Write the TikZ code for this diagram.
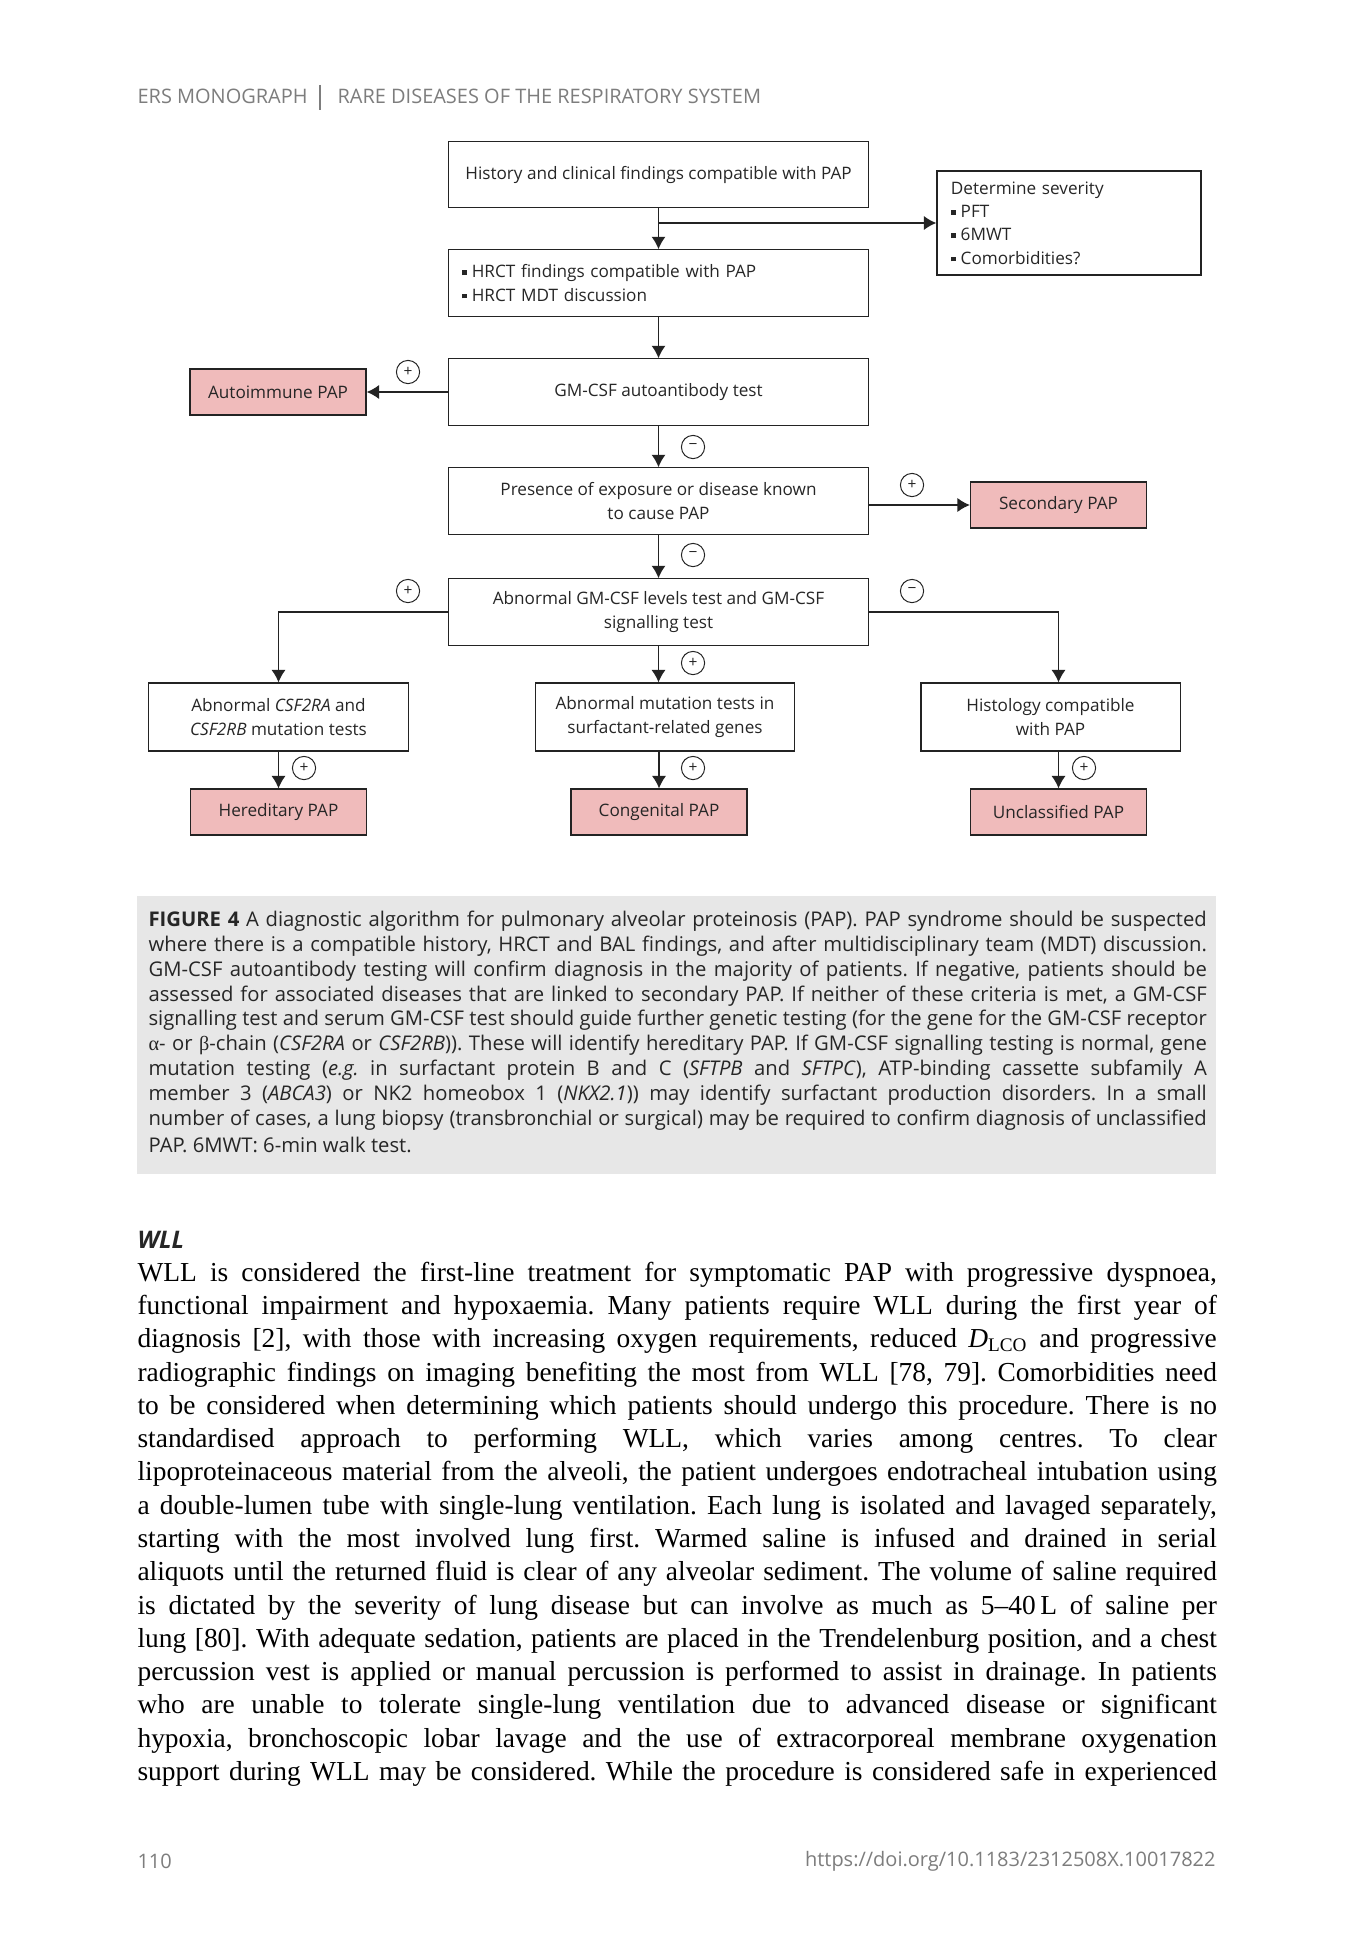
\documentclass[tikz,border=0pt]{standalone}
\usepackage{fontspec}
\setmainfont{Liberation Serif}
\setsansfont{Open Sans}
\newfontfamily\greekserif{Liberation Serif}
\usetikzlibrary{arrows.meta,positioning}
\definecolor{papred}{RGB}{240,187,187}
\definecolor{boxline}{RGB}{35,35,35}
\definecolor{capgray}{RGB}{231,231,231}
\definecolor{headgray}{RGB}{125,125,125}
\newcommand{\sqbullet}{\rule[0.3ex]{0.5ex}{0.5ex}\hspace{0.3em}}
\newcommand{\capwidth}{13.225cm}
\newcommand{\bodywidth}{13.4875cm}
\frenchspacing

\begin{document}
\begin{tikzpicture}[x=0.0125cm, y=-0.0125cm,
    >={Latex[length=4.4pt,width=5pt]}, %Pfeilspitzen
    font=\sffamily\fontsize{6.1}{8.3}\selectfont,
    stepbox/.style={draw=boxline, line width=0.45pt, text=black!85, align=center,
      minimum width=5.24cm, minimum height=0.83cm, inner sep=2pt},
    genebox/.style={stepbox, minimum width=3.24cm, minimum height=0.85cm},
    papbox/.style={stepbox, fill=papred, minimum width=2.2cm, minimum height=0.575cm},
    sign/.style={draw=boxline, circle, line width=0.35pt, inner sep=0pt, minimum size=0.29cm,
      font=\sffamily\fontsize{5.5}{5.5}\selectfont, text=black!85},
    capline/.style={anchor=west, inner sep=0pt, text=black!85, font=\sffamily\fontsize{7.2}{8.9}\selectfont},
    bodyline/.style={anchor=west, inner sep=0pt, text=black, font=\rmfamily\fontsize{9.75}{11.8}\selectfont},
    pagetext/.style={inner sep=0pt, text=headgray, font=\sffamily\fontsize{7.1}{8.4}\selectfont}]
  % Seite
  \useasboundingbox[fill=white] (0,0) rectangle (1348,1952);
  % Kopfzeile
  \node[pagetext, anchor=west] (headl) at (137,96) {ERS MONOGRAPH};
  \draw[headgray, line width=0.4pt] (320,85) -- (320,110);
  \node[pagetext, anchor=west] (headr) at (337,96) {RARE DISEASES OF THE RESPIRATORY SYSTEM};
  % Kästen
  \node[stepbox] (hist) at (658.5,174.5) {History and clinical findings compatible with PAP};
  \node[stepbox, minimum width=3.3cm, minimum height=1.3cm, align=left, text width=2.95cm, inner xsep=5pt,
    font=\sffamily\fontsize{6.1}{8.3}\selectfont] (sev) at (1069,223)
    {Determine severity\\ \sqbullet PFT\\ \sqbullet 6MWT\\ \sqbullet Comorbidities?};
  \node[stepbox, align=left, text width=4.91cm, inner xsep=4.6pt] (hrct) at (658.5,283)
    {\sqbullet HRCT findings compatible with PAP\\ \sqbullet HRCT MDT discussion};
  \node[stepbox] (abtest) at (658.5,392) {GM-CSF autoantibody test};
  \node[papbox] (autoimm) at (278,392) {Autoimmune PAP};
  \node[stepbox] (expo) at (658.5,501) {Presence of exposure or disease known\\ to cause PAP};
  \node[papbox] (secpap) at (1058.5,505) {Secondary PAP};
  \node[stepbox] (gmcsf) at (658.5,612) {Abnormal GM-CSF levels test and GM-CSF\\ signalling test};
  \node[genebox] (csfgene) at (278.5,717) {Abnormal \textit{CSF2RA} and\\ \textit{CSF2RB} mutation tests};
  \node[genebox] (mutgene) at (665,717) {Abnormal mutation tests in\\ surfactant-related genes};
  \node[genebox] (histo) at (1050.5,717) {Histology compatible\\ with PAP};
  \node[papbox] (heredpap) at (278.5,812) {Hereditary PAP};
  \node[papbox] (congpap) at (659,812) {Congenital PAP};
  \node[papbox] (unclpap) at (1058.5,812) {Unclassified PAP};
  % Pfeile
  \draw[->, boxline, line width=0.45pt] (hist) -- (hrct);
  \draw[->, boxline, line width=0.45pt] (hist.south |- sev.west) -- (sev.west);
  \draw[->, boxline, line width=0.45pt] (hrct) -- (abtest);
  \draw[->, boxline, line width=0.45pt] (abtest) -- (autoimm);
  \draw[->, boxline, line width=0.45pt] (abtest) -- (expo);
  \draw[->, boxline, line width=0.45pt] (expo.east |- secpap.west) -- (secpap.west);
  \draw[->, boxline, line width=0.45pt] (expo) -- (gmcsf);
  \draw[->, boxline, line width=0.45pt] (gmcsf.west) -| (csfgene.north);
  \draw[->, boxline, line width=0.45pt] (gmcsf.south) -- (gmcsf.south |- mutgene.north);
  \draw[->, boxline, line width=0.45pt] (gmcsf.east) -| (unclpap.north |- histo.north);
  \draw[->, boxline, line width=0.45pt] (csfgene) -- (heredpap);
  \draw[->, boxline, line width=0.45pt] (congpap.north |- mutgene.south) -- (congpap);
  \draw[->, boxline, line width=0.45pt] (unclpap.north |- histo.south) -- (unclpap);
  % Plus/Minus
  \foreach \nm/\px/\py/\sg in {sa/408/372/+, sb/693/447/−, sc/912/485/+, sd/693/555/−,
      se/408/591/+, sf/912/591/−, sg/693/663/+, sh/304/768/+, si/693/768/+, sj/1084/768/+}
    \node[sign] (\nm) at (\px,\py) {\sg};
  % Legende
  \fill[capgray] (137,896) rectangle (1216,1174);
  \foreach \txt [count=\i from 0] in {
      {\textbf{FIGURE 4} A diagnostic algorithm for pulmonary alveolar proteinosis (PAP). PAP syndrome should be suspected},
      {where there is a compatible history, HRCT and BAL findings, and after multidisciplinary team (MDT) discussion.},
      {GM-CSF autoantibody testing will confirm diagnosis in the majority of patients. If negative, patients should be},
      {assessed for associated diseases that are linked to secondary PAP. If neither of these criteria is met, a GM-CSF},
      {signalling test and serum GM-CSF test should guide further genetic testing (for the gene for the GM-CSF receptor},
      {{\greekserif α}- or {\greekserif β}-chain (\textit{CSF2RA} or \textit{CSF2RB})). These will identify hereditary PAP. If GM-CSF signalling testing is normal, gene},
      {mutation testing (\textit{e.g.} in surfactant protein B and C (\textit{SFTPB} and \textit{SFTPC}), ATP-binding cassette subfamily A},
      {member 3 (\textit{ABCA3}) or NK2 homeobox 1 (\textit{NKX2.1})) may identify surfactant production disorders. In a small},
      {number of cases, a lung biopsy (transbronchial or surgical) may be required to confirm diagnosis of unclassified}}
    \node[capline] (cap\i) at (148,921+24.9*\i) {\makebox[\capwidth][s]{\txt}};
  \node[capline] (cap9) at (148,921+24.9*9) {PAP. 6MWT: 6-min walk test.};
  % Text
  \node[anchor=west, inner sep=0pt, text=black!85, font=\sffamily\bfseries\itshape\fontsize{8.6}{10}\selectfont]
    (wllhead) at (137,1240) {WLL};
  \foreach \txt [count=\i from 0] in {
      {WLL is considered the first-line treatment for symptomatic PAP with progressive dyspnoea,},
      {functional impairment and hypoxaemia. Many patients require WLL during the first year of},
      {diagnosis [2], with those with increasing oxygen requirements, reduced \textit{D}\textsubscript{LCO} and progressive},
      {radiographic findings on imaging benefiting the most from WLL [78, 79]. Comorbidities need},
      {to be considered when determining which patients should undergo this procedure. There is no},
      {standardised approach to performing WLL, which varies among centres. To clear},
      {lipoproteinaceous material from the alveoli, the patient undergoes endotracheal intubation using},
      {a double-lumen tube with single-lung ventilation. Each lung is isolated and lavaged separately,},
      {starting with the most involved lung first. Warmed saline is infused and drained in serial},
      {aliquots until the returned fluid is clear of any alveolar sediment. The volume of saline required},
      {is dictated by the severity of lung disease but can involve as much as 5–40\,L of saline per},
      {lung [80]. With adequate sedation, patients are placed in the Trendelenburg position, and a chest},
      {percussion vest is applied or manual percussion is performed to assist in drainage. In patients},
      {who are unable to tolerate single-lung ventilation due to advanced disease or significant},
      {hypoxia, bronchoscopic lobar lavage and the use of extracorporeal membrane oxygenation},
      {support during WLL may be considered. While the procedure is considered safe in experienced}}
    \node[bodyline] (body\i) at (137,1274.6+33.27*\i) {\makebox[\bodywidth][s]{\txt}};
  % Fusszeile
  \node[pagetext, anchor=west] (pagenum) at (137,1861) {110};
  \node[pagetext, anchor=east] (doi) at (1216,1861) {https://doi.org/10.1183/2312508X.10017822};
\end{tikzpicture}
\end{document}
